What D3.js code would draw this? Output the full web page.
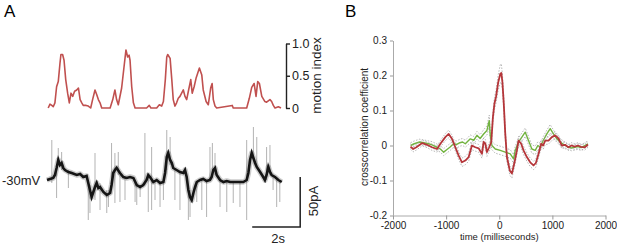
<!DOCTYPE html>
<html lang="en">
<head>
<meta charset="UTF-8">
<title>Motion index, membrane current and crosscorrelation</title>
<script src="https://d3js.org/d3.v7.min.js"></script>
<style>
body { margin: 0; background: #fff; }
text { font-family: "Liberation Sans", Arial, sans-serif; }
</style>
</head>
<body>
<div id="chart"></div>
<script>

// ---- panel A: motion index (time in s, index 0..1)
var motionT = [0.05, 0.125, 0.20, 0.26, 0.33, 0.40, 0.47, 0.54, 0.58, 0.65, 0.71, 0.78, 0.86, 0.93, 1.00, 1.07, 1.15, 1.24, 1.31, 1.38,
  1.45, 1.51, 1.63, 1.72, 1.82, 1.90, 2.00, 2.07, 2.14, 2.21, 2.28, 2.63, 2.74, 2.83, 2.90, 2.97, 3.11, 3.21, 3.29, 3.36,
  3.42, 3.46, 3.53, 3.60, 3.67, 4.15, 4.26, 4.33, 4.57, 4.68, 4.78, 4.85, 4.93, 4.99, 5.03, 5.13, 5.20, 5.26, 5.33, 5.40,
  5.47, 5.54, 5.61, 5.68, 5.75, 5.82, 5.89, 5.99, 6.05, 6.13, 6.21, 6.35, 6.45, 6.51, 6.63, 6.72, 6.82, 6.88, 6.93, 7.00,
  7.07, 7.72, 7.76, 8.32, 8.43, 8.53, 8.63, 8.71, 8.78, 8.85, 8.95, 9.08, 9.15, 9.29, 9.36, 9.43, 9.50, 9.64, 9.75];
var motionV = [0.00, 0.06, 0.04, 0.02, 0.08, 0.33, 0.41, 0.69, 0.83, 0.83, 0.74, 0.44, 0.23, 0.08, 0.23, 0.18, 0.26, 0.28, 0.31, 0.13,
  0.08, 0.04, 0.04, 0.03, 0.00, 0.13, 0.28, 0.21, 0.13, 0.08, 0.00, 0.00, 0.13, 0.28, 0.13, 0.05, 0.31, 0.64, 0.90, 0.79,
  0.82, 0.74, 0.33, 0.08, 0.00, 0.00, 0.04, 0.00, 0.00, 0.05, 0.03, 0.10, 0.44, 0.79, 0.83, 0.77, 0.44, 0.13, 0.03, 0.08,
  0.15, 0.18, 0.23, 0.28, 0.18, 0.13, 0.26, 0.44, 0.23, 0.33, 0.46, 0.62, 0.51, 0.28, 0.10, 0.05, 0.31, 0.38, 0.13, 0.03,
  0.00, 0.04, 0.00, 0.00, 0.15, 0.32, 0.38, 0.18, 0.41, 0.38, 0.18, 0.10, 0.09, 0.13, 0.10, 0.04, 0.00, 0.02, 0.00];
var motionTicks = [0, 0.5, 1];

// ---- panel A: membrane current (time in s, pA relative to holding at -30mV)
var currentT = [0.00, 0.125, 0.26, 0.33, 0.40, 0.47, 0.54, 0.61, 0.68, 0.75, 0.89, 1.03, 1.24, 1.38, 1.51, 1.65, 1.72, 1.79, 1.86, 1.93,
  2.00, 2.07, 2.14, 2.21, 2.35, 2.49, 2.63, 2.69, 2.76, 2.83, 2.90, 3.04, 3.18, 3.32, 3.46, 3.60, 3.74, 3.88, 4.01, 4.15,
  4.22, 4.29, 4.43, 4.57, 4.71, 4.85, 4.92, 4.99, 5.05, 5.13, 5.20, 5.26, 5.40, 5.54, 5.68, 5.75, 5.82, 5.89, 5.96, 6.03,
  6.10, 6.17, 6.24, 6.38, 6.51, 6.65, 6.79, 6.86, 6.93, 7.00, 7.07, 7.21, 7.35, 7.49, 7.63, 7.90, 8.18, 8.32, 8.39, 8.46,
  8.53, 8.60, 8.67, 8.74, 8.88, 9.01, 9.08, 9.15, 9.22, 9.29, 9.36, 9.50, 9.64, 9.78];
var currentV = [0, 1, 2, 5, 12, 20, 15, 17, 12, 10, 8, 7, 5, 6, 3, 4, -3, -10, -17, -12,
  -7, -3, -8, -7, -12, -15, -13, -5, 7, 10, 12, 7, 3, 2, 3, 2, -5, -7, -5, 0,
  5, 3, -2, 0, -3, -2, 7, 23, 27, 20, 17, 12, 10, 8, 7, 10, 3, -10, -17, -20,
  -13, -7, -2, 0, 1, -1, 0, 3, 10, 12, 5, 0, -2, -1, -2, -2, -2, 0, 7, 20,
  27, 22, 17, 13, 8, 3, 0, 5, 13, 8, 5, 3, 0, -2];
// fast transients: [time, low pA, high pA]
var spikes = [[0.20, -3, 40], [0.40, -18, 12], [0.47, 15, 32], [0.61, 10, 28], [0.89, -8, 10], [1.72, -40, 0], [1.79, -33, -5],
  [2.00, -20, 27], [2.21, -30, -3], [2.49, -33, -10], [2.56, -27, -10], [2.69, -10, 37], [2.83, -23, 27], [2.97, 5, 28],
  [3.04, -22, 5], [3.25, -20, 3], [3.67, -22, -3], [3.74, -25, -5], [3.88, -17, -5], [4.08, -5, 47], [4.22, -32, 5],
  [4.36, -30, 33], [4.50, -20, 0], [4.71, -27, -3], [4.85, -20, -2], [4.99, 10, 50], [5.13, 15, 43], [5.33, -20, 10],
  [5.54, -30, 8], [5.89, -40, -10], [5.96, -37, -10], [6.24, -22, -2], [6.45, -30, 0], [6.65, -37, 0], [6.79, 0, 33],
  [6.89, 3, 37], [7.00, 5, 27], [7.21, -27, 0], [7.49, -32, -1], [7.76, -23, -2], [8.04, -27, -2], [8.32, -40, 40],
  [8.60, 20, 53], [8.74, 13, 43], [9.15, 0, 33], [9.29, 5, 35], [9.42, -10, 5], [9.57, -27, 0], [9.70, -22, -2]];

// ---- panel B: crosscorrelation (lag in ms)
var redLag = [-1670, -1620, -1560, -1450, -1360, -1265, -1171, -1108, -1015, -952, -890, -827, -764, -702, -639, -576, -514,
  -451, -388, -326, -294, -262, -232, -190, -150, -120, -90, -60, -20, 20, 40, 60, 85, 113, 144, 200, 238, 288, 332, 363,
  413, 457, 520, 583, 645, 689, 739, 789, 827, 865, 927, 990, 1053, 1115, 1178, 1240, 1300, 1360, 1420, 1480, 1540, 1610, 1670];
var redCorr = [-0.003, -0.010, -0.005, 0.007, 0.002, -0.005, -0.010, 0.005, 0.024, 0.033, 0.019, -0.005, -0.029, -0.048, -0.043,
  -0.033, 0.000, -0.005, -0.008, -0.024, 0.010, 0.005, -0.019, -0.005, 0.010, 0.080, 0.120, 0.140, 0.180, 0.205, 0.207, 0.180,
  0.120, 0.034, -0.033, -0.072, -0.080, -0.048, -0.014, 0.014, 0.005, -0.014, -0.033, -0.048, -0.057, -0.050, -0.024, 0.005,
  0.000, 0.014, 0.014, 0.024, 0.029, 0.020, 0.000, 0.002, -0.005, 0.000, -0.003, 0.000, -0.004, -0.005, 0.003];
var redSem = [0.008, 0.008, 0.008, 0.008, 0.008, 0.009, 0.009, 0.009, 0.010, 0.011, 0.011, 0.011, 0.011, 0.012, 0.012, 0.012, 0.012,
  0.011, 0.011, 0.012, 0.012, 0.012, 0.012, 0.012, 0.013, 0.015, 0.017, 0.018, 0.022, 0.026, 0.026, 0.022, 0.018, 0.014, 0.013,
  0.013, 0.013, 0.012, 0.012, 0.012, 0.012, 0.012, 0.012, 0.012, 0.012, 0.012, 0.011, 0.011, 0.011, 0.011, 0.010, 0.010, 0.010,
  0.009, 0.009, 0.008, 0.008, 0.008, 0.008, 0.008, 0.008, 0.008, 0.008];

var greenLag = [-1670, -1600, -1500, -1420, -1330, -1265, -1171, -1108, -1046, -990, -930, -860, -800, -740, -690, -639, -545, -480,
  -420, -360, -294, -232, -188, -169, -138, -75, 19, 113, 207, 269, 300, 363, 426, 489, 551, 614, 677, 727, 771, 830, 896,
  959, 1021, 1084, 1147, 1240, 1300, 1360, 1420, 1480, 1540, 1610, 1670];
var greenCorr = [0.000, 0.005, 0.010, 0.008, 0.005, 0.002, -0.005, -0.010, -0.019, -0.012, -0.005, 0.005, 0.003, 0.008, 0.010,
  0.005, 0.019, 0.015, 0.029, 0.020, 0.033, 0.043, 0.071, 0.029, 0.000, -0.010, -0.014, -0.019, -0.024, -0.038, -0.015, 0.010,
  0.024, 0.038, 0.014, -0.010, -0.014, 0.000, -0.005, 0.015, 0.033, 0.048, 0.033, 0.019, 0.010, 0.000, -0.005, -0.007, -0.005,
  -0.003, -0.006, 0.000, 0.005];
var greenSem = [0.008, 0.008, 0.008, 0.008, 0.008, 0.009, 0.009, 0.009, 0.010, 0.010, 0.010, 0.010, 0.010, 0.010, 0.010, 0.010,
  0.011, 0.011, 0.011, 0.011, 0.012, 0.013, 0.016, 0.013, 0.012, 0.012, 0.012, 0.012, 0.012, 0.012, 0.012, 0.012, 0.012,
  0.012, 0.012, 0.012, 0.012, 0.011, 0.011, 0.011, 0.011, 0.012, 0.011, 0.010, 0.010, 0.009, 0.008, 0.008, 0.008, 0.008,
  0.008, 0.008, 0.008];

var xTicksB = [-2000, -1000, 0, 1000, 2000];
var yTicksB = [-0.2, -0.1, 0, 0.1, 0.2, 0.3];

var width = 617, height = 245;
var svg = d3.select("#chart").append("svg")
  .attr("width", width)
  .attr("height", height);

// ===== panel A =====
var xA = d3.scaleLinear().domain([0, 9.75]).range([47, 281]);
var yMotion = d3.scaleLinear().domain([0, 1]).range([108, 43.5]);
var yCur = d3.scaleLinear().domain([-40, 60]).range([220, 120]);

svg.append("text").attr("x", 4).attr("y", 17)
  .attr("font-size", 17).text("A");

var motionLine = d3.line()
  .x((d, i) => xA(motionT[i]))
  .y(d => yMotion(d));

svg.append("path")
  .datum(motionV)
  .attr("fill", "none")
  .attr("stroke", "#c0504f")
  .attr("stroke-width", 1.6)
  .attr("stroke-linejoin", "round")
  .attr("d", motionLine);

var motionAxis = svg.append("g")
  .attr("transform", "translate(286,0)")
  .call(d3.axisRight(yMotion).tickValues(motionTicks)
    .tickFormat(d => d === 0 ? "0" : d3.format(".1f")(d))
    .tickSize(4).tickSizeOuter(0).tickPadding(2));
motionAxis.select(".domain").attr("stroke", "#222").attr("stroke-width", 1.4);
motionAxis.selectAll(".tick line").attr("stroke", "#222").attr("stroke-width", 1.4);
motionAxis.selectAll("text").attr("font-size", 12.5).attr("fill", "#222")
  .attr("font-family", "'Liberation Sans', Arial, sans-serif");

svg.append("text")
  .attr("transform", "translate(321,75.5) rotate(-90)")
  .attr("text-anchor", "middle")
  .attr("font-size", 13.5).attr("fill", "#222")
  .text("motion index");

// current trace: spikes under the dense trace
svg.append("g").selectAll("line")
  .data(spikes)
  .join("line")
  .attr("x1", d => xA(d[0])).attr("x2", d => xA(d[0]))
  .attr("y1", d => yCur(d[1])).attr("y2", d => yCur(d[2]))
  .attr("stroke", "#777")
  .attr("stroke-opacity", 0.7)
  .attr("stroke-width", 0.8);

var curLine = d3.line()
  .x((d, i) => xA(currentT[i]))
  .y(d => yCur(d));

svg.append("path")
  .datum(currentV)
  .attr("fill", "none")
  .attr("stroke", "#333")
  .attr("stroke-opacity", 0.25)
  .attr("stroke-width", 5.5)
  .attr("stroke-linejoin", "round")
  .attr("d", curLine);

svg.append("path")
  .datum(currentV)
  .attr("fill", "none")
  .attr("stroke", "#151515")
  .attr("stroke-width", 2.6)
  .attr("stroke-linejoin", "miter")
  .attr("d", curLine);

svg.append("text").attr("x", 2).attr("y", 185)
  .attr("font-size", 13).attr("fill", "#222").text("-30mV");

// scale bars: 2 s and 50 pA
var bar = svg.append("g").attr("stroke", "#222").attr("stroke-width", 1.5).attr("fill", "none");
bar.append("path")
  .attr("d", "M" + xA(8.55) + "," + yCur(-47) + "H" + xA(10.55) + "V" + yCur(3));

svg.append("text")
  .attr("x", (xA(8.55) + xA(10.55)) / 2 + 2).attr("y", 243)
  .attr("text-anchor", "middle")
  .attr("font-size", 13).attr("fill", "#222").text("2s");

svg.append("text")
  .attr("transform", "translate(318,201) rotate(-90)")
  .attr("text-anchor", "middle")
  .attr("font-size", 13).attr("fill", "#222").text("50pA");

// ===== panel B =====
var xB = d3.scaleLinear().domain([-2000, 2000]).range([393, 605.5]);
var yB = d3.scaleLinear().domain([-0.2, 0.3]).range([215.5, 40.5]);

svg.append("text").attr("x", 345).attr("y", 17)
  .attr("font-size", 17).text("B");

var minus = s => s.replace("\u2212", "-");

var xAxisB = svg.append("g")
  .attr("transform", "translate(0," + yB(-0.2) + ")")
  .call(d3.axisBottom(xB).tickValues(xTicksB).tickFormat(d => String(d))
    .tickSize(4).tickSizeOuter(0).tickPadding(2));

var yAxisB = svg.append("g")
  .attr("transform", "translate(" + xB(-2000) + ",0)")
  .call(d3.axisLeft(yB).tickValues(yTicksB)
    .tickFormat(d => d === 0 ? "0" : minus(d3.format(".1f")(d)))
    .tickSize(3).tickSizeOuter(0).tickPadding(3));

[xAxisB, yAxisB].forEach(function(g) {
  g.select(".domain").attr("stroke", "#aaa");
  g.selectAll(".tick line").attr("stroke", "#999");
  g.selectAll("text").attr("font-size", 10).attr("fill", "#1a1a1a")
    .attr("font-family", "'Liberation Sans', Arial, sans-serif");
});

svg.append("text")
  .attr("x", xB(0)).attr("y", 240)
  .attr("text-anchor", "middle")
  .attr("font-size", 9.5).attr("fill", "#222")
  .text("time (milliseconds)");

svg.append("text")
  .attr("transform", "translate(368,127) rotate(-90)")
  .attr("text-anchor", "middle")
  .attr("font-size", 10).attr("fill", "#222")
  .text("crosscorrelation coefficient");

function drawSeries(lag, corr, sem, color, w) {
  var upper = d3.line().x((d, i) => xB(lag[i])).y((d, i) => yB(corr[i] + sem[i]));
  var lower = d3.line().x((d, i) => xB(lag[i])).y((d, i) => yB(corr[i] - sem[i]));
  var mid = d3.line().x((d, i) => xB(lag[i])).y(d => yB(d));
  [upper, lower].forEach(function(l) {
    svg.append("path")
      .datum(corr)
      .attr("fill", "none")
      .attr("stroke", "#9a9a9a")
      .attr("stroke-width", 0.7)
      .attr("stroke-dasharray", "1.5,1.5")
      .attr("d", l);
  });
  svg.append("path")
    .datum(corr)
    .attr("fill", "none")
    .attr("stroke", color)
    .attr("stroke-width", w)
    .attr("stroke-linejoin", "round")
    .attr("d", mid);
}

drawSeries(greenLag, greenCorr, greenSem, "#72b340", 1.4);
drawSeries(redLag, redCorr, redSem, "#b5363a", 1.8);

</script>
</body>
</html>
